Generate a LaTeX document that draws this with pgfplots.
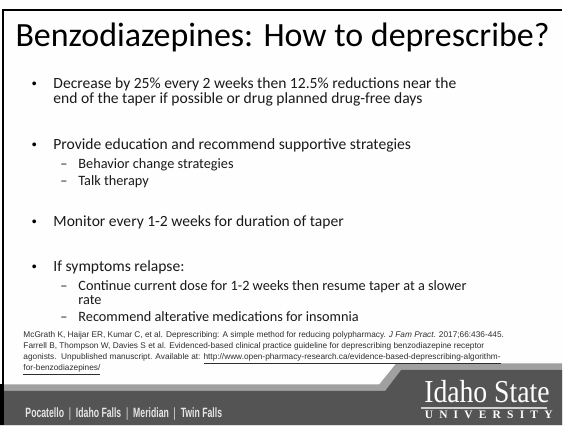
\documentclass[border=0pt]{standalone}
\usepackage{pgfplots}
\pgfplotsset{compat=1.18}
\usepackage{fontspec}
\usepackage{graphicx}
\setmainfont{Carlito}
\newfontfamily\arialf{Liberation Sans}
\newfontfamily\serifff{Liberation Serif}
\definecolor{bg}{HTML}{FEFEFE}
\definecolor{txt}{HTML}{1A1A1A}
\definecolor{reft}{HTML}{2E2E2E}
\definecolor{stripe}{HTML}{A0A0A0}
\definecolor{darkband}{HTML}{545454}
\definecolor{foot}{HTML}{E6E6E6}
\definecolor{logoline}{HTML}{D0D0D0}
\newcommand{\fs}[1]{\fontsize{#1}{#1}\selectfont}
\begin{document}
\begin{tikzpicture}
\begin{axis}[width=563pt,height=426pt,scale only axis,hide axis,
  xmin=0,xmax=563,ymin=0,ymax=426,y dir=reverse,clip=false,
  every node/.append style={inner sep=0pt,outer sep=0pt}]
% background
\addplot[fill=bg,draw=none] coordinates {(0,0)(563,0)(563,426)(0,426)} -- cycle;
% footer band
\addplot[fill=stripe,draw=none] coordinates {(0,385)(380,385)(397,364)(563,364)(563,426)(0,426)} -- cycle;
\addplot[fill=darkband,draw=none] coordinates {(0,391.5)(386,391.5)(402,370.5)(563,370.5)(563,426)(0,426)} -- cycle;
\addplot[fill=black,draw=none] coordinates {(0,385)(4.5,385)(4.5,426)(0,426)} -- cycle;
% frame lines
\addplot[black,line width=2pt,mark=none] coordinates {(3.5,426) (3.5,10.5) (563,10.5)};
% rule in logo
\addplot[logoline,line width=1.4pt,mark=none] coordinates {(422,408.6) (548,408.6)};

% title
\node[anchor=base west,font=\fs{34}] at (axis cs:12,47) {Benzodiazepines: How to deprescribe?};

% bullets box 1
\node[anchor=base,font=\arialf\fs{14}] at (axis cs:34.5,89) {•};
\node[anchor=base west,font=\fs{15.6},text=txt] at (axis cs:50,89) {Decrease by 25\% every 2 weeks then 12.5\% reductions near the};
\node[anchor=base west,font=\fs{15.6},text=txt] at (axis cs:50,103.5) {end of the taper if possible or drug planned drug-free days};
\node[anchor=base,font=\arialf\fs{14}] at (axis cs:34.5,150) {•};
\node[anchor=base west,font=\fs{15.6},text=txt] at (axis cs:50,150) {Provide education and recommend supportive strategies};
\node[anchor=base west,font=\fs{14.3},text=txt] at (axis cs:57,168.5) {–};
\node[anchor=base west,font=\fs{14.3},text=txt] at (axis cs:75,168.5) {Behavior change strategies};
\node[anchor=base west,font=\fs{14.3},text=txt] at (axis cs:57,186) {–};
\node[anchor=base west,font=\fs{14.3},text=txt] at (axis cs:75,186) {Talk therapy};

% bullets box 2
\node[anchor=base,font=\arialf\fs{14}] at (axis cs:34.5,227) {•};
\node[anchor=base west,font=\fs{15.6},text=txt] at (axis cs:50,227) {Monitor every 1-2 weeks for duration of taper};
\node[anchor=base,font=\arialf\fs{14}] at (axis cs:34.5,272) {•};
\node[anchor=base west,font=\fs{15.6},text=txt] at (axis cs:50,272) {If symptoms relapse:};
\node[anchor=base west,font=\fs{14.3},text=txt] at (axis cs:57,291.5) {–};
\node[anchor=base west,font=\fs{14.3},text=txt] at (axis cs:75,291.5) {Continue current dose for 1-2 weeks then resume taper at a slower};
\node[anchor=base west,font=\fs{14.3},text=txt] at (axis cs:75,305.5) {rate};
\node[anchor=base west,font=\fs{14.3},text=txt] at (axis cs:57,322.5) {–};
\node[anchor=base west,font=\fs{14.3},text=txt] at (axis cs:75,322.5) {Recommend alterative medications for insomnia};

% references
\node[anchor=base west,font=\arialf\fs{8.3},text=reft] at (axis cs:20,338.5) {McGrath K, Haijar ER, Kumar C, et al. Deprescribing: A simple method for reducing polypharmacy. \textit{J Fam Pract.} 2017;66:436-445.};
\node[anchor=base west,font=\arialf\fs{8.3},text=reft] at (axis cs:20,349.5) {Farrell B, Thompson W, Davies S et al. Evidenced-based clinical practice guideline for deprescribing benzodiazepine receptor};
\node[anchor=base west,font=\arialf\fs{8.3},text=reft] at (axis cs:20,360.5) {agonists.\ \ Unpublished manuscript. Available at: \underline{http://www.open-pharmacy-research.ca/evidence-based-deprescribing-algorithm-}};
\node[anchor=base west,font=\arialf\fs{8.3},text=reft] at (axis cs:20,371.5) {\underline{for-benzodiazepines/}};

% footer text
\node[anchor=base west,font=\arialf\bfseries\fs{13.5},text=foot] at (axis cs:22,418) {\resizebox{197pt}{\height}{Pocatello\ \ \textmd{|}\ \ Idaho Falls\ \ \textmd{|}\ \ Meridian\ \ \textmd{|}\ \ Twin Falls}};
\node[anchor=base west,font=\serifff\fs{32},text=white] at (axis cs:421.5,403.5) {\resizebox{125.5pt}{\height}{Idaho State}};
\node[anchor=base west,font=\serifff\bfseries\fs{11.5},text=white] at (axis cs:422,419) {\makebox[128pt][s]{U\hfil N\hfil I\hfil V\hfil E\hfil R\hfil S\hfil I\hfil T\hfil Y}};
\end{axis}
\end{tikzpicture}
\end{document}
